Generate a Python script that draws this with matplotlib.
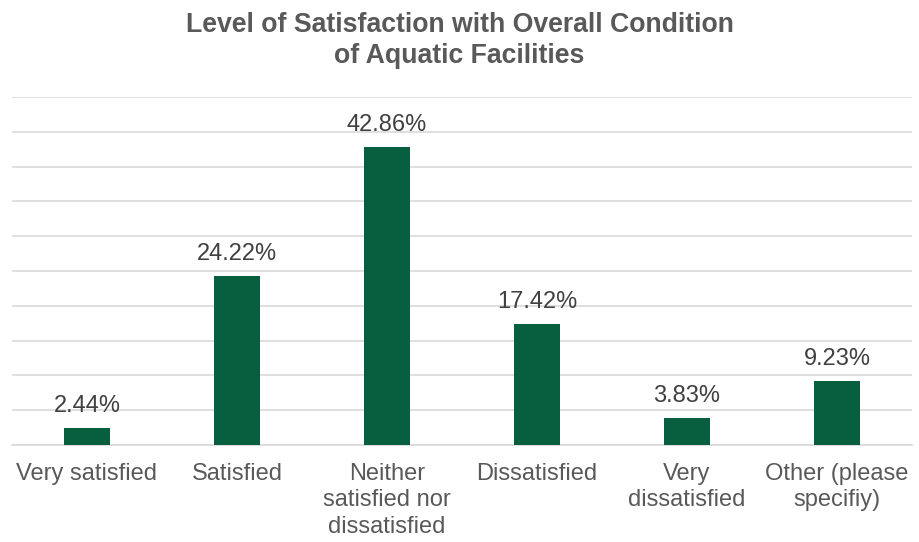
import matplotlib
matplotlib.use("Agg")
import matplotlib.pyplot as plt
import numpy as np

plt.rcParams['font.family'] = ['Liberation Sans', 'DejaVu Sans']

categories = ["Very satisfied", "Satisfied", "Neither\nsatisfied nor\ndissatisfied",
              "Dissatisfied", "Very\ndissatisfied", "Other (please\nspecifiy)"]
values = [2.44, 24.22, 42.86, 17.42, 3.83, 9.23]
title = "Level of Satisfaction with Overall Condition\nof Aquatic Facilities"

fig = plt.figure(figsize=(9.19, 5.42), dpi=100)
ax = fig.add_axes([12 / 919, 97 / 542, 900 / 919, 348 / 542])

x = np.arange(len(categories))
ax.bar(x, values, width=0.31, color="#075f40", zorder=3)

for xi, v in zip(x, values):
    ax.annotate(f"{v:.2f}%", (xi, v), xytext=(0, 11.5), textcoords="offset points",
                ha="center", va="baseline", fontsize=17, color="#404040")

ax.set_xlim(-0.5, len(categories) - 0.5)
ax.set_ylim(0, 50)
ax.set_yticks(np.arange(0, 51, 5))
ax.yaxis.grid(True, color="#d9d9d9", linewidth=1.2, zorder=0)
ax.tick_params(axis="y", left=False, labelleft=False)
ax.tick_params(axis="x", length=0, pad=13, labelsize=17, labelcolor="#595959")
ax.set_xticks(x)
ax.set_xticklabels(categories, linespacing=1.25)
for s in ["top", "right", "left"]:
    ax.spines[s].set_visible(False)
ax.spines["bottom"].set_color("#d9d9d9")
ax.spines["bottom"].set_linewidth(1.2)

fig.text(0.5, 0.978, title, ha="center", va="top", fontsize=19.2, fontweight="bold",
         color="#595959", linespacing=1.24)

fig.savefig("out.png", dpi=100)
